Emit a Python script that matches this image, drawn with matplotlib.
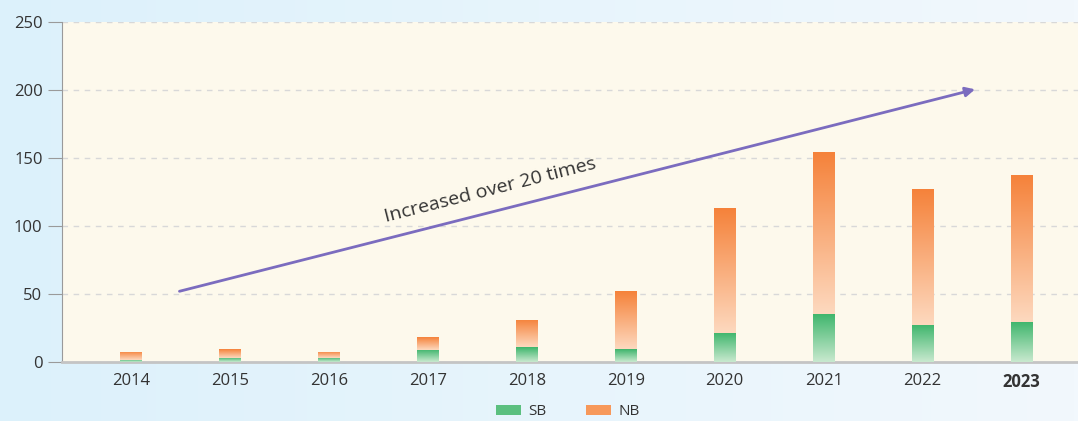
import numpy as np
import matplotlib
matplotlib.use("Agg")
import matplotlib.pyplot as plt
from matplotlib.colors import LinearSegmentedColormap
from matplotlib.patches import Patch

years = ["2014", "2015", "2016", "2017", "2018", "2019", "2020", "2021", "2022", "2023"]
sb = [1.5, 3, 3, 9, 11, 9.5, 21.5, 35.5, 27.5, 29.5]
nb = [6, 6.5, 4.5, 9.5, 20, 42.5, 91.5, 119, 99.5, 108]
yticks = [0, 50, 100, 150, 200, 250]
annotation = "Increased over 20 times"

plt.rcParams['font.family'] = ['Open Sans', 'DejaVu Sans']

fig = plt.figure(figsize=(10.78, 4.21), dpi=100)

# background gradient
bg = fig.add_axes([0, 0, 1, 1], zorder=-10)
bg_cmap = LinearSegmentedColormap.from_list("bg", ["#dcf1fb", "#f2f8fd"])
bg.imshow(np.linspace(0, 1, 256).reshape(1, -1), cmap=bg_cmap, aspect="auto", extent=[0, 1, 0, 1])
bg.set_axis_off()

ax = fig.add_axes([62 / 1078, 59 / 421, 1 - 62 / 1078, 340 / 421])
ax.set_facecolor("#fdf9ec")

x = np.arange(len(years))
w = 0.22

green_cmap = LinearSegmentedColormap.from_list("g", ["#c9e9cf", "#3db56b"])
orange_cmap = LinearSegmentedColormap.from_list("o", ["#fdd9bf", "#f5823a"])
grad = np.linspace(0, 1, 256).reshape(-1, 1)

bars_sb = ax.bar(x, sb, width=w, color="none", edgecolor="none", zorder=3)
bars_nb = ax.bar(x, nb, width=w, bottom=sb, color="none", edgecolor="none", zorder=3)

for bars, cmap in ((bars_sb, green_cmap), (bars_nb, orange_cmap)):
    for b in bars:
        x0, y0 = b.get_x(), b.get_y()
        im = ax.imshow(grad, cmap=cmap, origin="lower", aspect="auto",
                       extent=[x0, x0 + b.get_width(), y0, y0 + b.get_height()], zorder=3)
        im.set_clip_path(b)

ax.set_xlim(-0.697, 9.57)
ax.set_ylim(0, 250)
ax.set_yticks(yticks)
ax.set_xticks(x)
ax.set_xticklabels(years)
ax.get_xticklabels()[-1].set_fontweight("bold")

ax.grid(axis="y", linestyle=(0, (4, 4)), color="#d8d8d8", linewidth=1, zorder=0)
ax.set_axisbelow(True)
for s in ("top", "right"):
    ax.spines[s].set_visible(False)
ax.spines["left"].set_color("#9a9a9a")
ax.spines["bottom"].set_color("#c4c4c4")
ax.spines["bottom"].set_linewidth(2)
ax.tick_params(axis="y", length=10, color="#9a9a9a", labelsize=12, labelcolor="#333333", pad=4)
ax.tick_params(axis="x", length=0, labelsize=12, labelcolor="#333333", pad=8)

ax.annotate("", xy=(8.53, 200.5), xytext=(0.49, 52),
            arrowprops=dict(arrowstyle="-|>", color="#7b6cbf", lw=2, mutation_scale=14,
                            shrinkA=0, shrinkB=0), zorder=4)
ax.text(3.63, 126, annotation, rotation=14.3, rotation_mode="anchor",
        ha="center", va="center", fontsize=14, color="#333333")

handles = [Patch(facecolor="#5cc07f", edgecolor="none", label="SB"),
           Patch(facecolor="#f7985a", edgecolor="none", label="NB")]
fig.legend(handles=handles, loc="center", bbox_to_anchor=(0.527, 0.022), ncol=2,
           frameon=False, fontsize=11, handlelength=1.6, handleheight=0.6,
           handletextpad=0.5, columnspacing=2.6, labelcolor="#333333",
           borderpad=0.1)

fig.savefig("out.png", dpi=100)
